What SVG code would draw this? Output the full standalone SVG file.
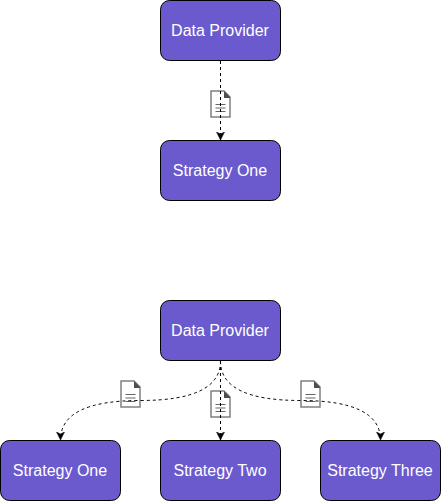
<svg xmlns="http://www.w3.org/2000/svg" width="441" height="501" viewBox="0 0 441 501">
<style>
.n{fill:#6a5acd;stroke:#000;stroke-width:1}
.t{fill:#fff;font:16px "Liberation Sans",Arial,sans-serif;text-anchor:middle}
.c{fill:none;stroke:#000;stroke-width:1;stroke-dasharray:3 3}
.d{fill:#fff;stroke:#808080;stroke-width:1.5}
.f{fill:#4d4d4d}
.l{stroke:#666;stroke-width:1.2;fill:none}
</style>
<defs>
<marker id="a" markerUnits="userSpaceOnUse" markerWidth="10" markerHeight="10" refX="8" refY="4" orient="auto"><path d="M0 0L8 4L0 8L2 4Z" fill="#000" stroke="#000" stroke-width=".5"/></marker>
<g id="doc"><path class="d" d="M0 0H13L19 6V26H0Z"/><path class="f" d="M13 0L19 6V7H13Z"/></g>
</defs>
<g id="node-provider-1"><rect class="n" x="160.500" y="0.500" width="120" height="60" rx="9"/><text class="t" x="220" y="36">Data Provider</text></g>
<g id="node-strategy-1"><rect class="n" x="160.500" y="140.500" width="120" height="60" rx="9"/><text class="t" x="220" y="176">Strategy One</text></g>
<g id="node-provider-2"><rect class="n" x="160.500" y="300.500" width="120" height="60" rx="9"/><text class="t" x="220" y="336">Data Provider</text></g>
<g id="node-strategy-one"><rect class="n" x="0.500" y="440.500" width="120" height="60" rx="9"/><text class="t" x="60" y="476">Strategy One</text></g>
<g id="node-strategy-two"><rect class="n" x="160.500" y="440.500" width="120" height="60" rx="9"/><text class="t" x="220" y="476">Strategy Two</text></g>
<g id="node-strategy-three"><rect class="n" x="320.500" y="440.500" width="120" height="60" rx="9"/><text class="t" x="380" y="476">Strategy Three</text></g>
<g id="doc-1" transform="translate(211 91)"><use href="#doc"/><path class="l" d="M4.500 13.500H14.500M4.500 17H14.500M4.500 20.500H14.500"/></g>
<g id="doc-2" transform="translate(121 381)"><use href="#doc"/><path class="l" d="M4.500 13.500H14.500M4.500 17H14.500M4.500 20.500H14.500"/></g>
<g id="doc-3" transform="translate(211 391)"><use href="#doc"/><path class="l" d="M4.500 13.500H14.500M4.500 17H14.500M4.500 20.500H14.500"/></g>
<g id="doc-4" transform="translate(301 381)"><use href="#doc"/><path class="l" d="M4.500 13.500H14.500M4.500 17H14.500M4.500 20.500H14.500"/></g>
<g id="connectors">
<path class="c" d="M220.500 61V140" marker-end="url(#a)"/>
<path class="c" d="M220.500 361Q220.500 400.500 140.500 400.500Q60.500 400.500 60.500 440" marker-end="url(#a)"/>
<path class="c" d="M220.500 361V440" marker-end="url(#a)"/>
<path class="c" d="M220.500 361Q220.500 400.500 300.500 400.500Q380.500 400.500 380.500 440" marker-end="url(#a)"/>
</g>
</svg>
